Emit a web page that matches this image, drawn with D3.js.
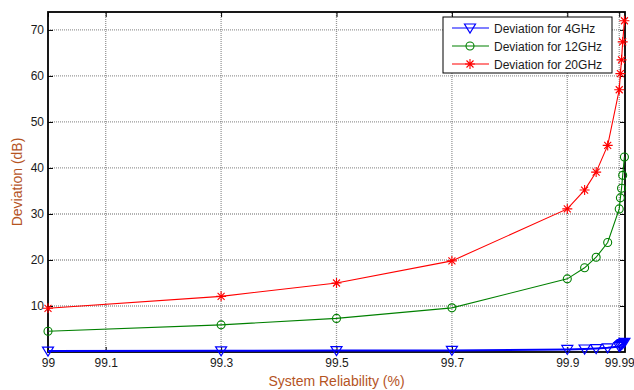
<!DOCTYPE html>
<html>
<head>
<meta charset="utf-8">
<script src="https://cdn.jsdelivr.net/npm/d3@7"></script>
<style>
  body { margin: 0; background: #fff; }
  text { font-family: Arial, "Liberation Sans", sans-serif; }
</style>
</head>
<body>
<script>
// reliability values (%) along the x axis
const reliability = [99, 99.3, 99.5, 99.7, 99.9, 99.93, 99.95, 99.97, 99.99, 99.992, 99.994, 99.996, 99.999];
const dev4 = [0.2, 0.25, 0.3, 0.35, 0.55, 0.65, 0.75, 0.9, 1.2, 1.4, 1.6, 1.8, 2.1];
const dev12 = [4.5, 5.9, 7.3, 9.6, 15.9, 18.3, 20.6, 23.8, 31.1, 33.5, 35.6, 38.4, 42.4];
const dev20 = [9.5, 12.1, 15.0, 19.8, 31.1, 35.2, 39.1, 44.9, 57.0, 60.5, 63.5, 67.4, 72.0];
const xTicks = [99, 99.1, 99.3, 99.5, 99.7, 99.9, 99.99];
const yTicks = [10, 20, 30, 40, 50, 60, 70];
const seriesNames = ["Deviation for 4GHz", "Deviation for 12GHz", "Deviation for 20GHz"];

const width = 634, height = 390;
const margin = {left: 48, right: 9, top: 12, bottom: 38};

const svg = d3.select("body").append("svg")
  .attr("width", width)
  .attr("height", height);

const x = d3.scaleLinear().domain([99, 100]).range([margin.left, width - margin.right]);
const y = d3.scaleLinear().domain([0, 73.9]).range([height - margin.bottom, margin.top]);

const x0 = x.range()[0], x1 = x.range()[1];
const y0 = y.range()[0], y1 = y.range()[1];

// grid
svg.append("g").selectAll("line.vx")
  .data(xTicks.slice(1))
  .join("line")
  .attr("x1", d => x(d)).attr("x2", d => x(d))
  .attr("y1", y0).attr("y2", y1)
  .attr("stroke", "#555").attr("stroke-width", 1.3)
  .attr("stroke-dasharray", "1,1").attr("opacity", 0.6);

svg.append("g").selectAll("line.hy")
  .data(yTicks)
  .join("line")
  .attr("x1", x0).attr("x2", x1)
  .attr("y1", d => y(d)).attr("y2", d => y(d))
  .attr("stroke", "#555").attr("stroke-width", 1.3)
  .attr("stroke-dasharray", "1,1").attr("opacity", 0.6);

// axes
const xAxis = d3.axisBottom(x).tickValues(xTicks).tickSize(-5).tickPadding(6)
  .tickFormat(d => String(d));
svg.append("g").attr("transform", `translate(0,${y0})`).call(xAxis);
const yAxis = d3.axisLeft(y).tickValues(yTicks).tickSize(-5).tickPadding(4);
svg.append("g").attr("transform", `translate(${x0},0)`).call(yAxis);

// top / right ticks
svg.append("g").attr("transform", `translate(0,${y1})`)
  .call(d3.axisTop(x).tickValues(xTicks).tickSize(-5).tickFormat(""));
svg.append("g").attr("transform", `translate(${x1},0)`)
  .call(d3.axisRight(y).tickValues(yTicks).tickSize(-5).tickFormat(""));

svg.selectAll(".domain").remove();
svg.selectAll(".tick line").attr("stroke", "#000");
svg.selectAll(".tick text").attr("font-size", 12).attr("fill", "#1a1a1a");

svg.append("rect")
  .attr("x", x0).attr("y", y1)
  .attr("width", x1 - x0).attr("height", y0 - y1)
  .attr("fill", "none").attr("stroke", "#000").attr("stroke-width", 1.8);

// axis titles
svg.append("text")
  .attr("x", (x0 + x1) / 2).attr("y", 386)
  .attr("text-anchor", "middle")
  .attr("font-size", 14).attr("fill", "#b5541f")
  .text("System Reliability (%)");

svg.append("text")
  .attr("transform", `translate(22,${(y0 + y1) / 2}) rotate(-90)`)
  .attr("text-anchor", "middle")
  .attr("font-size", 14).attr("fill", "#b5541f")
  .text("Deviation (dB)");

// series
const series = [
  {name: seriesNames[0], values: dev4, color: "#0000ff", marker: "tri"},
  {name: seriesNames[1], values: dev12, color: "#008000", marker: "circle"},
  {name: seriesNames[2], values: dev20, color: "#ff0000", marker: "star"}
];

const line = d3.line().x(d => x(d[0])).y(d => y(d[1]));

function drawMarker(g, type, color) {
  if (type === "tri") {
    g.append("path").attr("d", "M-5.5,-4 L5.5,-4 L0,5 Z")
      .attr("fill", "none").attr("stroke", color).attr("stroke-width", 1.2);
  } else if (type === "circle") {
    g.append("circle").attr("r", 4)
      .attr("fill", "none").attr("stroke", color).attr("stroke-width", 1.1);
  } else {
    g.append("path")
      .attr("d", "M-5,0 L5,0 M0,-5 L0,5 M-3.5,-3.5 L3.5,3.5 M-3.5,3.5 L3.5,-3.5")
      .attr("fill", "none").attr("stroke", color).attr("stroke-width", 1.1);
  }
}

series.forEach(s => {
  const pts = reliability.map((r, i) => [r, s.values[i]]);
  svg.append("path")
    .datum(pts)
    .attr("d", line)
    .attr("fill", "none")
    .attr("stroke", s.color)
    .attr("stroke-width", s.marker === "tri" ? 2 : 1.1);

  svg.append("g").selectAll("g")
    .data(pts)
    .join("g")
    .attr("transform", d => `translate(${x(d[0])},${y(d[1])})`)
    .each(function () { drawMarker(d3.select(this), s.marker, s.color); });
});

// legend
const legend = svg.append("g").attr("transform", "translate(443,17)");
legend.append("rect")
  .attr("width", 169).attr("height", 56)
  .attr("fill", "#fff").attr("stroke", "#000").attr("stroke-width", 1);

series.forEach((s, i) => {
  const g = legend.append("g").attr("transform", `translate(0,${11 + i * 18})`);
  g.append("line").attr("x1", 9).attr("x2", 46).attr("y1", 0).attr("y2", 0)
    .attr("stroke", s.color).attr("stroke-width", 1.1);
  drawMarker(g.append("g").attr("transform", "translate(27,0)"), s.marker, s.color);
  g.append("text").attr("x", 51).attr("y", 4.5)
    .attr("font-size", 12).attr("fill", "#1a1a1a")
    .text(s.name);
});
</script>
</body>
</html>
